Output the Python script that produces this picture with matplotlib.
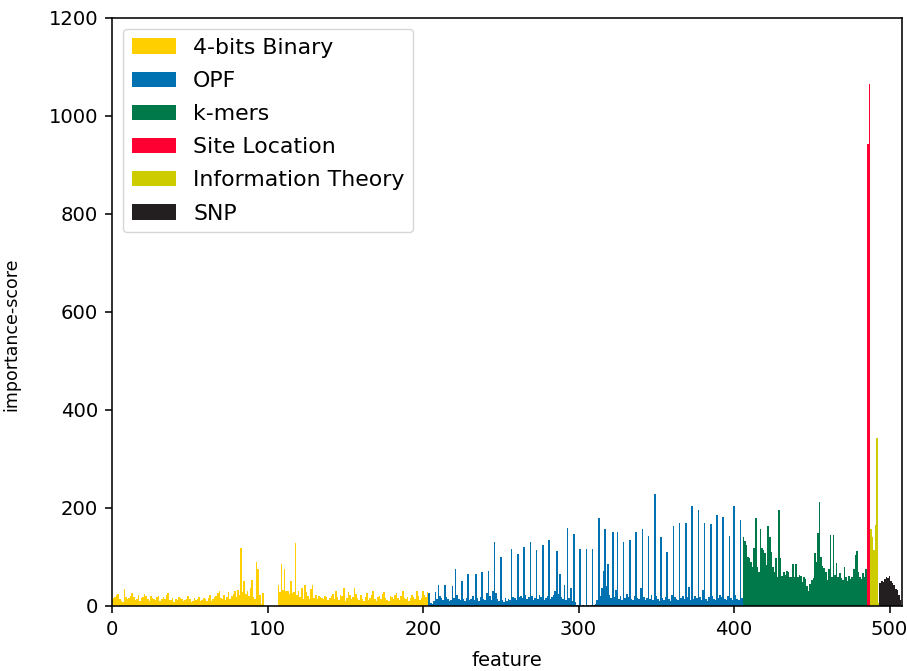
import numpy as np
import matplotlib
matplotlib.use('Agg')
import matplotlib.pyplot as plt

# feature importance scores, grouped by feature type
binary = [
    12, 16, 18, 22, 24, 15, 10, 9, 34, 18, 14, 16, 20, 26, 19, 12, 14, 22, 10, 16,
    18, 24, 20, 15, 11, 20, 17, 14, 12, 18, 20, 10, 14, 18, 15, 22, 26, 13, 12, 16,
    8, 14, 12, 18, 16, 15, 10, 12, 14, 20, 14, 8, 10, 16, 12, 14, 18, 10, 12, 16,
    14, 10, 16, 22, 10, 14, 18, 20, 26, 30, 16, 14, 22, 12, 18, 28, 14, 20, 24, 30,
    18, 32, 22, 118, 28, 50, 24, 30, 20, 36, 53, 18, 14, 90, 75, 22, 3, 27, 0, 0,
    0, 0, 0, 0, 0, 0, 0, 43, 28, 85, 32, 75, 30, 30, 24, 50, 26, 28, 128, 22,
    30, 18, 36, 14, 42, 28, 20, 14, 34, 42, 16, 22, 14, 20, 18, 16, 14, 20, 18, 12,
    16, 20, 24, 14, 30, 18, 12, 22, 20, 36, 10, 16, 28, 22, 14, 18, 36, 24, 16, 12,
    22, 14, 10, 18, 26, 12, 16, 22, 30, 14, 10, 18, 20, 14, 24, 28, 16, 12, 10, 20,
    18, 14, 22, 26, 16, 12, 20, 30, 16, 14, 18, 10, 16, 22, 18, 14, 30, 20, 12, 16,
    30, 22, 18, 28,
]
opf = [
    27, 6, 4, 10, 28, 14, 43, 20, 16, 12,
    43, 18, 14, 10, 12, 40, 16, 75, 22, 14,
    12, 50, 14, 10, 16, 65, 12, 14, 20, 12,
    65, 16, 10, 18, 69, 14, 12, 26, 72, 20,
    12, 30, 131, 26, 14, 10, 100, 12, 8, 16,
    10, 14, 12, 117, 18, 16, 12, 105, 18, 20,
    16, 121, 22, 14, 18, 131, 20, 12, 16, 114,
    14, 22, 18, 124, 12, 16, 20, 134, 14, 18,
    22, 30, 112, 24, 65, 18, 14, 43, 12, 160,
    16, 36, 10, 147, 8, 2, 1, 117, 0, 1,
    0, 117, 1, 0, 2, 117, 1, 3, 12, 179,
    20, 36, 72, 156, 40, 85, 22, 16, 150, 18,
    33, 150, 14, 20, 12, 131, 16, 24, 18, 134,
    14, 12, 20, 150, 16, 14, 36, 156, 18, 12,
    16, 143, 14, 22, 12, 228, 20, 14, 10, 140,
    16, 12, 18, 111, 14, 10, 22, 163, 18, 14,
    12, 170, 16, 20, 14, 170, 18, 39, 12, 203,
    14, 20, 16, 196, 18, 12, 33, 170, 14, 10,
    18, 167, 20, 14, 12, 186, 16, 22, 18, 182,
    14, 12, 20, 143, 16, 12, 203, 22, 14, 12,
    175, 16,
]
kmers = [
    140, 133, 124, 100, 97, 90, 80, 118, 179, 80,
    70, 156, 118, 115, 108, 84, 163, 140, 111, 80,
    70, 98, 60, 196, 98, 62, 70, 64, 72, 70,
    58, 60, 86, 60, 86, 58, 64, 62, 48, 58,
    54, 40, 30, 44, 52, 56, 107, 90, 148, 212,
    100, 82, 78, 70, 53, 76, 145, 60, 145, 64,
    88, 58, 68, 56, 52, 80, 58, 50, 62, 55,
    60, 76, 103, 113, 70, 60, 55, 68, 60, 75,
]
site_location = [943, 1065]
info_theory = [158, 141, 114, 165, 342, 5]
snp = [46, 50, 48, 54, 58, 56, 61, 50, 46, 43, 34, 33, 22, 12]

groups = ['4-bits Binary', 'OPF', 'k-mers', 'Site Location', 'Information Theory', 'SNP']
colors = ['#ffcf00', '#0072b2', '#00794a', '#ff0033', '#cccc00', '#231f20']
series = [binary, opf, kmers, site_location, info_theory, snp]

s = 1.417  # figure was a scaled-up 640x480 default
plt.rcParams.update({
    'font.size': 10 * s,
    'axes.linewidth': 0.8 * s,
    'xtick.major.width': 0.8 * s,
    'ytick.major.width': 0.8 * s,
    'xtick.major.size': 3.5 * s,
    'ytick.major.size': 3.5 * s,
    'xtick.major.pad': 3.5 * s,
    'ytick.major.pad': 3.5 * s,
})

fig = plt.figure(figsize=(9.07, 6.71), dpi=100)
ax = fig.add_axes([0.1235, 0.097, 0.8710, 0.8762])

start = 0
for name, col, vals in zip(groups, colors, series):
    x = np.arange(start, start + len(vals))
    ax.bar(x, vals, width=1.0, color=col, label=name, linewidth=0)
    start += len(vals)

ax.set_xlim(0, start)
ax.set_ylim(0, 1200)
ax.set_xticks([0, 100, 200, 300, 400, 500])
ax.set_yticks(range(0, 1201, 200))
ax.set_xlabel('feature', labelpad=9)
ax.set_ylabel('importance-score', fontsize=12.5)
ax.yaxis.set_label_coords(-0.1165, 0.4626)
ax.legend(loc='upper left', fontsize=15.8, labelspacing=0.6)

fig.savefig('out.png', dpi=100)
